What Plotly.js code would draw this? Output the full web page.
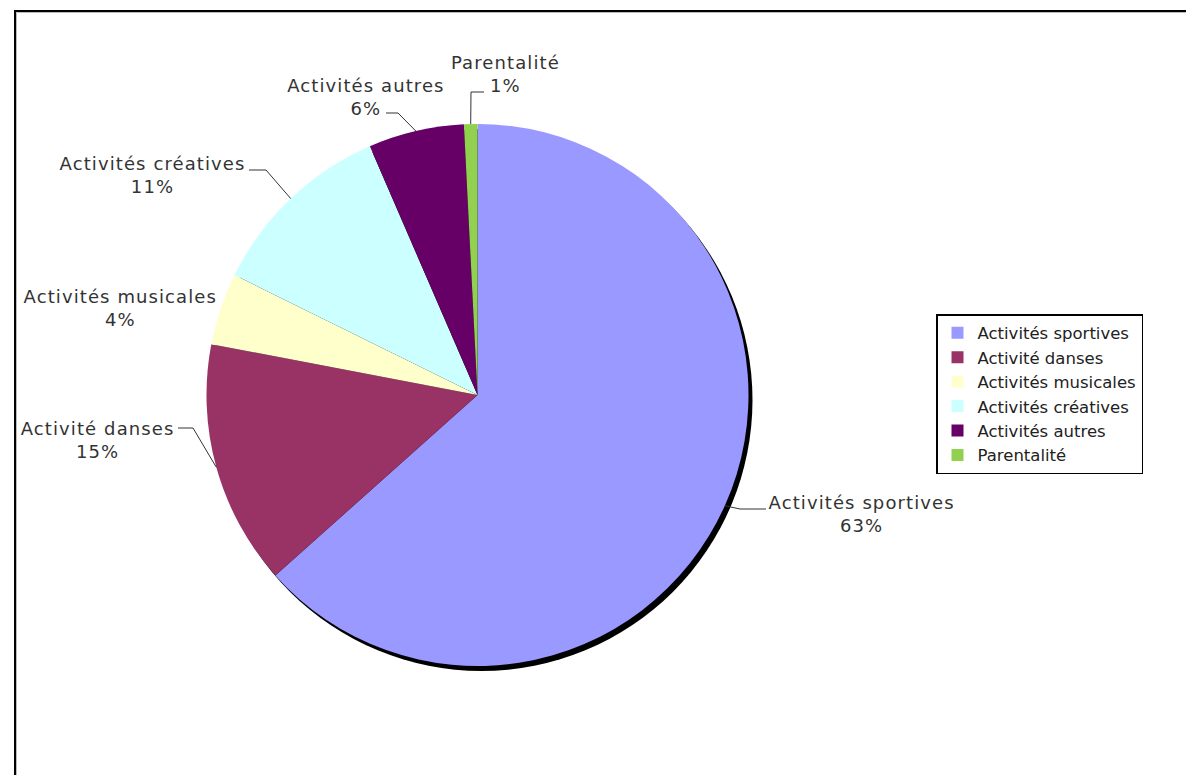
<!DOCTYPE html>
<html>
<head>
<meta charset="utf-8">
<script src="https://cdn.plot.ly/plotly-3.0.1.min.js"></script>
<style>
html,body{margin:0;padding:0;background:#fff;}
#chart{width:1186px;height:775px;}
#chart text.annotation-text{letter-spacing:1.1px;}
</style>
</head>
<body>
<div id="chart"></div>
<script>
// ---- data ----
const categories = ["Activités sportives", "Activité danses", "Activités musicales", "Activités créatives", "Activités autres", "Parentalité"];
const values = [63.4, 14.6, 4.3, 11.2, 5.7, 0.8];
const colors = ["#9999FF", "#993366", "#FFFFCC", "#CCFFFF", "#660066", "#92D050"];

// ---- layout constants (pixels) ----
const W = 1186, H = 775;
const CX = 477.5, CY = 395, R = 271;
// label centres and leader-line elbows / label-side ends (pixels)
const labelPos = [[861, 514], [97, 440], [120, 308], [152, 175], [366, 97], [505, 74]];
const leaderEnds = [
  [[740, 509], [766, 509]],
  [[193, 428], [178, 428]],
  [],
  [[266, 170], [249, 170]],
  [[398, 113], [386, 113]],
  [[471, 92], [484, 92]]
];

const px = x => x / W;
const py = y => 1 - y / H;

const total = values.reduce((a, b) => a + b, 0);
let cum = 0;
const shapes = [];
const annotations = [];
values.forEach((v, i) => {
  const mid = (cum + v / 2) / total * 2 * Math.PI;
  cum += v;
  const ex = CX + R * Math.sin(mid), ey = CY - R * Math.cos(mid);
  const pts = [[ex, ey]].concat(leaderEnds[i]);
  if (pts.length > 1) {
    let d = "";
    pts.forEach((p, k) => { d += (k ? " L " : "M ") + px(p[0]) + "," + py(p[1]); });
    shapes.push({type: "path", xref: "paper", yref: "paper", path: d, line: {color: "#333333", width: 1}});
  }
  annotations.push({
    xref: "paper", yref: "paper", x: px(labelPos[i][0]), y: py(labelPos[i][1]),
    xanchor: "center", yanchor: "middle", showarrow: false, align: "center",
    text: categories[i] + "<br>" + Math.round(v / total * 100) + "%",
    font: {family: "DejaVu Sans, Verdana, sans-serif", size: 18, color: "#333333"}
  });
});

// shadow under pie
shapes.unshift({type: "circle", xref: "paper", yref: "paper", layer: "below",
  x0: px(CX - R + 4), x1: px(CX + R + 4), y0: py(CY + R + 5), y1: py(CY - R + 5),
  fillcolor: "#000000", line: {width: 0}});
// outer frame
shapes.push({type: "rect", xref: "paper", yref: "paper", x0: px(15), x1: px(1250), y0: py(850), y1: py(11),
  line: {color: "#000000", width: 2}});
shapes.push({type: "path", xref: "paper", yref: "paper", path: "M " + px(16.5) + "," + py(850) + " L " + px(16.5) + "," + py(12.5) + " L " + px(1250) + "," + py(12.5),
  line: {color: "#bbbbbb", width: 1}});

const trace = {
  type: "pie",
  labels: categories,
  values: values,
  sort: false,
  direction: "clockwise",
  rotation: 0,
  textinfo: "none",
  hoverinfo: "label+percent",
  marker: {colors: colors, line: {width: 0}},
  domain: {x: [px(CX - R), px(CX + R)], y: [py(CY + R), py(CY - R)]}
};

const layout = {
  width: W, height: H,
  margin: {l: 0, r: 0, t: 0, b: 0},
  paper_bgcolor: "#ffffff",
  showlegend: true,
  legend: {
    x: px(936), y: py(314), xanchor: "left", yanchor: "top",
    bordercolor: "#000000", borderwidth: 1.5, bgcolor: "#ffffff",
    font: {family: "DejaVu Sans, Verdana, sans-serif", size: 16.5, color: "#222222"},
    itemwidth: 30
  },
  shapes: shapes,
  annotations: annotations
};

Plotly.newPlot("chart", [trace], layout, {displayModeBar: false, staticPlot: true});
</script>
</body>
</html>
